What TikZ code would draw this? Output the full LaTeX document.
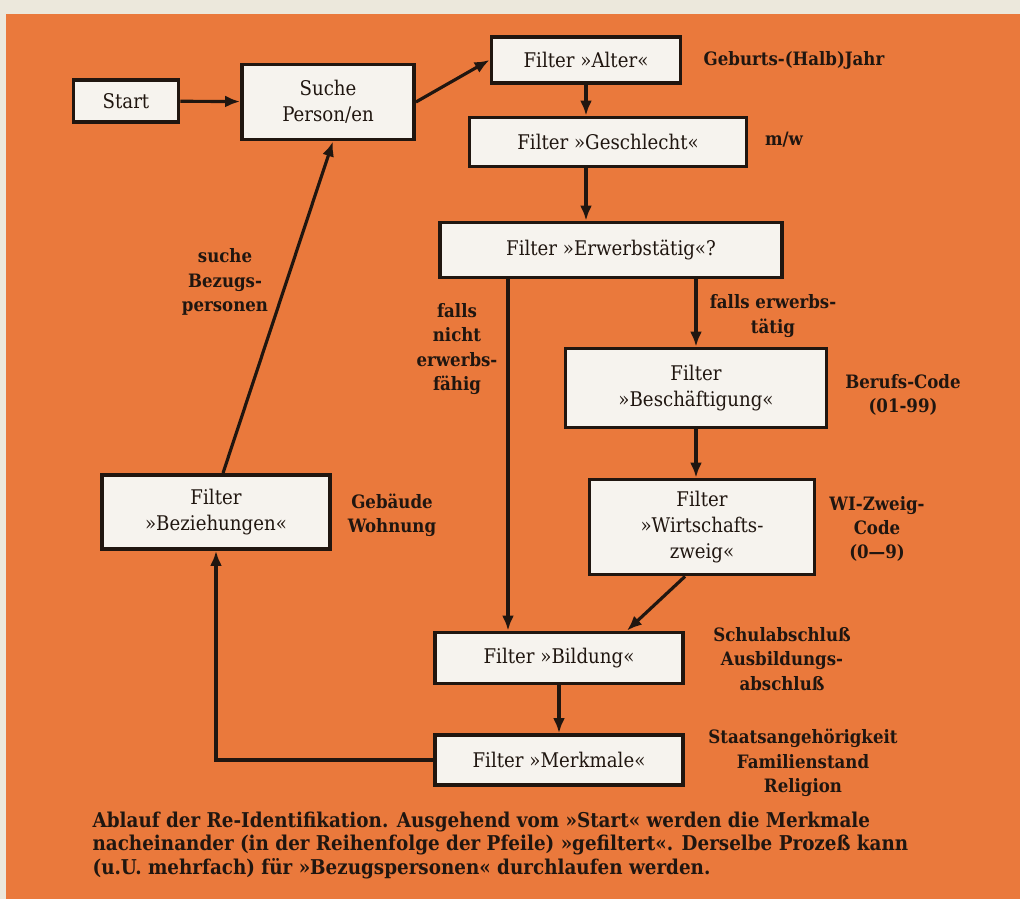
\documentclass[tikz,border=0pt]{standalone}
\usepackage{fontspec}
\setmainfont{DejaVu Serif}[FakeStretch=0.9]
\usetikzlibrary{arrows.meta}
\definecolor{bgorange}{RGB}{234,121,60}
\definecolor{papercream}{RGB}{236,232,220}
\definecolor{boxwhite}{RGB}{246,243,238}
\definecolor{inkbrown}{RGB}{32,22,16}

\begin{document}
\begin{tikzpicture}[x=0.2mm, y=-0.2mm, >={Latex[length=3mm, width=2.4mm]}, line width=1.8pt, color=inkbrown]
    \tikzset{filterbox/.style 2 args={draw, fill=boxwhite, line width=2.2pt, align=center, inner sep=1pt,
                 minimum width=#1*0.2mm, minimum height=#2*0.2mm, font=\fontsize{11.5}{15}\selectfont},
             note/.style={align=center, inner sep=0pt, font=\bfseries\fontsize{10.5}{13.8}\selectfont},
             legend/.style={align=left, inner sep=0pt, font=\bfseries\fontsize{11.6}{13.6}\selectfont}}
    % paper and orange panel
    \fill[papercream] (0,0) rectangle (1020,899);
    \fill[bgorange] (6,14) rectangle (1020,899);
    \useasboundingbox (0,0) rectangle (1020,899);
    % boxes
    \node[filterbox={105}{42}] (start) at (126,101) {Start};
    \node[filterbox={172}{75}] (suche) at (328,102) {Suche\\Person/en};
    \node[filterbox={189}{46}] (alter) at (586,60) {Filter »Alter«};
    \node[filterbox={277}{49}] (geschlecht) at (608,142) {Filter »Geschlecht«};
    \node[filterbox={342}{55}] (erwerb) at (611,250) {Filter »Erwerbstätig«?};
    \node[filterbox={261}{79}] (beschaeft) at (696,388) {Filter\\»Beschäftigung«};
    \node[filterbox={225}{95}] (wirtschaft) at (702,527) {Filter\\»Wirtschafts-\\zweig«};
    \node[filterbox={248}{51}] (bildung) at (559,658) {Filter »Bildung«};
    \node[filterbox={248}{50}] (merkmale) at (559,760) {Filter »Merkmale«};
    \node[filterbox={228}{74}] (beziehung) at (216,512) {Filter\\»Beziehungen«};
    % notes
    \node[note] (geburt) at (794,60) {Geburts-(Halb)Jahr};
    \node[note] (mw) at (784,140) {m/w};
    \node[note] (nichterw) at (457,349) {falls\\nicht\\erwerbs-\\fähig};
    \node[note] (jaerw) at (773,316) {falls erwerbs-\\tätig};
    \node[note] (beruf) at (903,395) {Berufs-Code\\(01-99)};
    \node[note] (wizweig) at (877,529) {WI-Zweig-\\Code\\(0—9)};
    \node[note] (gebaeude) at (392,515) {Gebäude\\Wohnung};
    \node[note] (bezug) at (225,282) {suche\\Bezugs-\\personen};
    \node[note] (schule) at (782,659) {Schulabschluß\\Ausbildungs-\\abschluß};
    \node[note] (staat) at (803,763) {Staatsangehörigkeit\\Familienstand\\Religion};
    \node[legend, anchor=north west] (legende) at (91,810)
        {Ablauf der Re-Identifikation. Ausgehend vom »Start« werden die Merkmale\\
         nacheinander (in der Reihenfolge der Pfeile) »gefiltert«. Derselbe Prozeß kann\\
         (u.U. mehrfach) für »Bezugspersonen« durchlaufen werden.};
    % connectors
    \coordinate (nichtx) at (508,0);
    \draw[->] (start) -- (suche);
    \draw[->] (suche.east) -- (alter.west);
    \draw[->] (alter) -- (alter |- geschlecht.north);
    \draw[->] (geschlecht.south -| alter) -- (erwerb.north -| alter);
    \draw[->] (erwerb.south -| nichtx) -- (bildung.north -| nichtx);
    \draw[->] (erwerb.south -| beschaeft) -- (beschaeft.north);
    \draw[->] (beschaeft) -- (beschaeft |- wirtschaft.north);
    \draw[->] ([xshift=-3.4mm]wirtschaft.south) -- ([xshift=13.6mm]bildung.north);
    \draw[->] (bildung) -- (merkmale);
    \draw[->] (merkmale.west) -| (beziehung.south);
    \draw[->] ([xshift=1.4mm]beziehung.north) -- ([xshift=1mm]suche.south);
\end{tikzpicture}
\end{document}
